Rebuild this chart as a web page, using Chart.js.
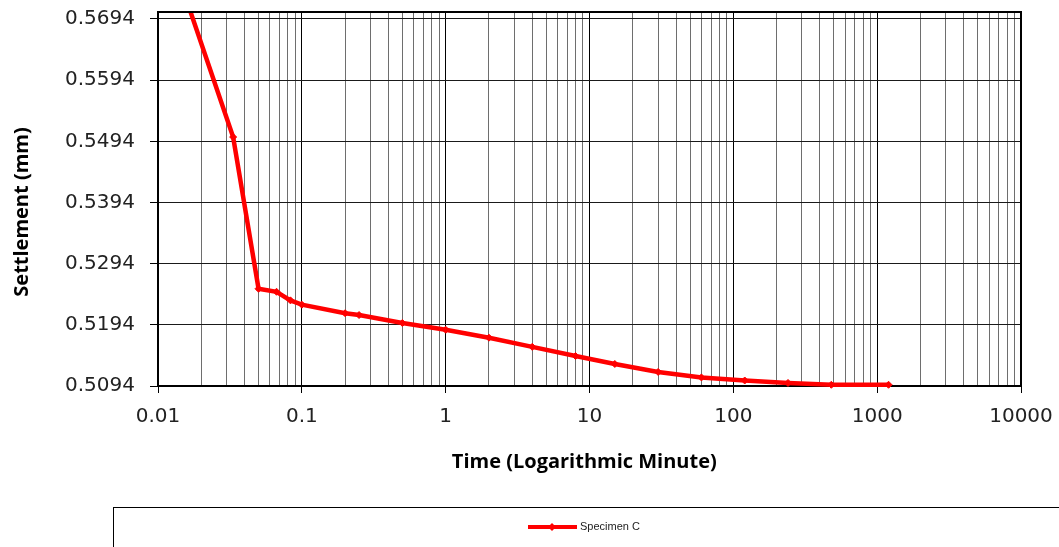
<!DOCTYPE html>
<html>
<head>
<meta charset="utf-8">
<script src="https://cdn.jsdelivr.net/npm/chart.js@4.4.1/dist/chart.umd.min.js"></script>
<style>
  html, body { margin: 0; padding: 0; background: #fff; }
  #wrap { width: 1059px; height: 547px; position: relative; }
</style>
</head>
<body>
<div id="wrap"><canvas id="c" width="1059" height="547"></canvas></div>
<script>
// ---- data ----
const timeMinutes = [0.0167, 0.0333, 0.05, 0.0667, 0.0833, 0.1, 0.2, 0.25, 0.5, 1, 2, 4, 8, 15, 30, 60, 120, 240, 480, 1200];
const settlementMm = [0.5708, 0.5501, 0.5253, 0.5248, 0.5234, 0.5227, 0.5213, 0.5210, 0.5197, 0.5186, 0.5173, 0.5158, 0.5143, 0.5130, 0.5117, 0.5108, 0.5103, 0.5099, 0.5096, 0.5096];
const seriesName = 'Specimen C';
const xTickLabels = ['0.01', '0.1', '1', '10', '100', '1000', '10000'];
const yTickLabels = ['0.5094', '0.5194', '0.5294', '0.5394', '0.5494', '0.5594', '0.5694'];
const xTitle = 'Time (Logarithmic Minute)';
const yTitle = 'Settlement (mm)';

const points = timeMinutes.map((t, i) => ({ x: t, y: settlementMm[i] }));

const xTickValues = [];
xTickLabels.forEach((lbl, i) => {
  const dec = parseFloat(lbl);
  if (i < xTickLabels.length - 1) {
    for (let m = 1; m <= 9; m++) xTickValues.push(dec * m);
  } else {
    xTickValues.push(dec);
  }
});
const isMajor = v => Math.abs(Math.log10(v) - Math.round(Math.log10(v))) < 1e-9;

const TICK_FAMILY = '"DejaVu Sans", sans-serif';
const TITLE_FAMILY = '"Open Sans", sans-serif';

const frameAndLegend = {
  id: 'frameAndLegend',
  afterDatasetsDraw(chart) {
    const { ctx, chartArea: a } = chart;
    ctx.save();
    ctx.strokeStyle = '#000';
    ctx.lineWidth = 2;
    ctx.beginPath();
    ctx.moveTo(a.left, a.top);
    ctx.lineTo(a.right, a.top);
    ctx.lineTo(a.right, a.bottom);
    ctx.stroke();
    ctx.restore();
  },
  afterDraw(chart) {
    const { ctx } = chart;
    ctx.save();
    // legend box
    ctx.strokeStyle = '#000';
    ctx.lineWidth = 1;
    ctx.strokeRect(113.5, 507.5, 1000, 100);
    // legend sample
    const ds = chart.data.datasets[0];
    const y = 527;
    ctx.strokeStyle = ds.borderColor;
    ctx.lineWidth = 4;
    ctx.beginPath();
    ctx.moveTo(528, y);
    ctx.lineTo(577, y);
    ctx.stroke();
    ctx.fillStyle = ds.borderColor;
    ctx.beginPath();
    ctx.moveTo(552, y - 4);
    ctx.lineTo(556, y);
    ctx.lineTo(552, y + 4);
    ctx.lineTo(548, y);
    ctx.closePath();
    ctx.fill();
    ctx.fillStyle = '#222';
    ctx.font = 'normal 11px "Liberation Sans", Arial, sans-serif';
    ctx.textBaseline = 'middle';
    ctx.textAlign = 'left';
    ctx.fillText(ds.label, 580, y);
    ctx.restore();
  }
};

new Chart(document.getElementById('c'), {
  type: 'line',
  data: {
    datasets: [{
      label: seriesName,
      data: points,
      borderColor: '#ff0000',
      backgroundColor: '#ff0000',
      borderWidth: 4.5,
      pointStyle: 'rectRot',
      pointRadius: 3.5,
      pointBorderWidth: 1,
      pointBackgroundColor: '#ff0000',
      pointBorderColor: '#ff0000',
      tension: 0,
      fill: false,
      clip: { left: 5, right: 5, top: 0, bottom: 5 }
    }]
  },
  options: {
    responsive: false,
    animation: false,
    devicePixelRatio: 1,
    layout: { padding: { top: 12, right: 38, left: 0, bottom: 67 } },
    plugins: { legend: { display: false }, tooltip: { enabled: false } },
    scales: {
      x: {
        type: 'logarithmic',
        min: 0.01,
        max: 10000,
        afterBuildTicks: s => { s.ticks = xTickValues.map(v => ({ value: v })); },
        afterFit: s => { s.height = 94; s.paddingLeft = 0; s.paddingRight = 0; },
        ticks: {
          autoSkip: false,
          maxRotation: 0,
          padding: 12,
          color: '#222',
          font: { family: TICK_FAMILY, size: 20, weight: 'normal' },
          major: { enabled: false },
          callback: v => {
            if (!isMajor(v)) return '';
            const idx = Math.round(Math.log10(v)) + 2;
            return xTickLabels[idx];
          }
        },
        grid: {
          color: c => (c.tick && isMajor(c.tick.value)) ? '#000' : '#6e6e6e',
          tickColor: c => (c.tick && isMajor(c.tick.value)) ? '#000' : 'rgba(0,0,0,0)',
          lineWidth: 1,
          tickLength: 7,
          drawTicks: true
        },
        border: { display: true, color: '#000', width: 2 },
        title: {
          display: true,
          text: xTitle + '  ',
          color: '#000',
          font: { family: TITLE_FAMILY, size: 20, weight: 'bold' },
          padding: { top: 0, bottom: 6 }
        }
      },
      y: {
        type: 'linear',
        min: 0.5094,
        max: 0.57054,
        afterBuildTicks: s => { s.ticks = yTickLabels.map(l => ({ value: parseFloat(l) })); },
        afterFit: s => { s.width = 158; s.paddingTop = 0; s.paddingBottom = 0; },
        ticks: {
          padding: 15,
          color: '#222',
          font: { family: TICK_FAMILY, size: 20, weight: 'normal' },
          callback: (v, i) => yTickLabels[i]
        },
        grid: {
          color: '#1a1a1a',
          lineWidth: 1,
          tickLength: 8,
          tickColor: '#000'
        },
        border: { display: true, color: '#000', width: 2 },
        title: {
          display: true,
          text: yTitle + '     ',
          color: '#000',
          font: { family: TITLE_FAMILY, size: 20, weight: 'bold' },
          padding: { top: 10, bottom: 0 }
        }
      }
    }
  },
  plugins: [frameAndLegend]
});
</script>
</body>
</html>
